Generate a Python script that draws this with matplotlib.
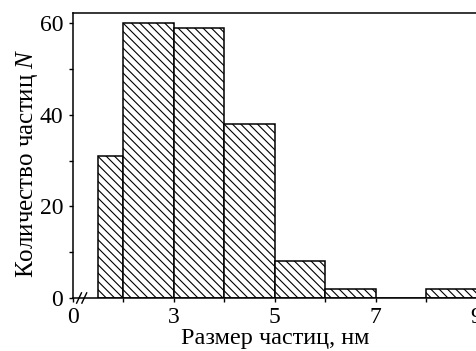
import matplotlib
matplotlib.use('Agg')
import matplotlib.pyplot as plt

# гистограмма размеров частиц
bin_left = [1.5, 2, 3, 4, 5, 6, 7, 8]
bin_right = [2, 3, 4, 5, 6, 7, 8, 9]
counts = [31, 60, 59, 38, 8, 2, 0, 2]

xtick_pos = [1, 3, 5, 7, 9]
xtick_labels = ['0', '3', '5', '7', '9']
xminor_pos = [2, 4, 6, 8]
ytick_pos = [0, 20, 40, 60]
yminor_pos = [10, 30, 50]

plt.rcParams['font.family'] = 'Liberation Serif'
plt.rcParams['mathtext.fontset'] = 'custom'
plt.rcParams['mathtext.rm'] = 'Liberation Serif'
plt.rcParams['mathtext.it'] = 'Liberation Serif:italic'
plt.rcParams['hatch.linewidth'] = 0.8

fig = plt.figure(figsize=(4.77, 3.51), dpi=100)
ax = fig.add_axes([0.153, 0.151, 0.846, 0.812])

widths = [r - l for l, r in zip(bin_left, bin_right)]
ax.bar(bin_left, counts, width=widths, align='edge', color='white',
       edgecolor='black', linewidth=1.1, hatch='\\\\\\\\')

ax.set_xlim(1, 9)
ax.set_ylim(0, 62.2)
ax.set_xticks(xtick_pos)
ax.set_xticklabels(xtick_labels)
ax.set_xticks(xminor_pos, minor=True)
ax.set_yticks(ytick_pos)
ax.set_yticks(yminor_pos, minor=True)
ax.tick_params(which='both', direction='out', length=3, width=1, labelsize=17)
ax.tick_params(axis='x', which='major', pad=3.5)
ax.tick_params(axis='y', which='major', pad=4)

for s in ax.spines.values():
    s.set_linewidth(1.1)

# знак разрыва оси
for dx in (0.015, 0.028):
    ax.plot([dx - 0.006, dx + 0.006], [-0.018, 0.018], color='black', lw=1,
            transform=ax.transAxes, clip_on=False)

ax.set_xlabel('Размер частиц, нм', fontsize=17.5, labelpad=0)
ax.set_ylabel('Количество частиц $N$', fontsize=18)
ax.yaxis.set_label_coords(-0.082, 0.472)

fig.savefig('out.png', dpi=100)
